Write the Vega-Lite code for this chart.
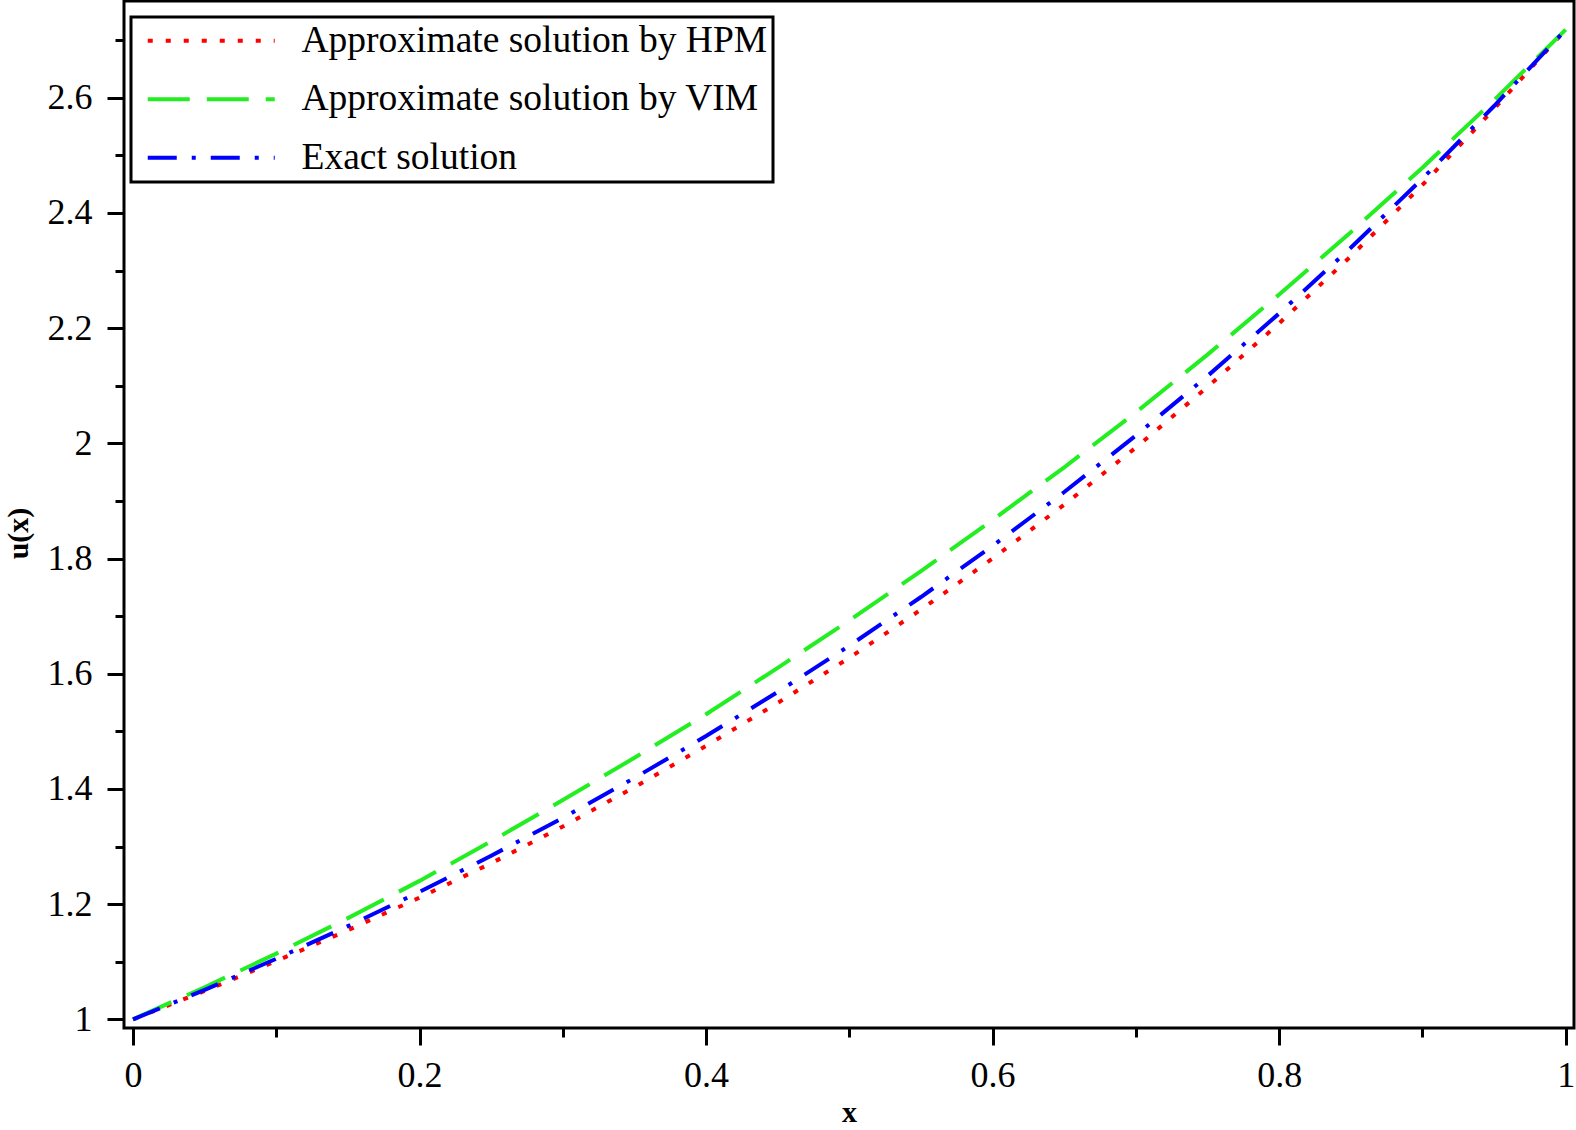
{
  "$schema": "https://vega.github.io/schema/vega-lite/v6.json",
  "width": 1450,
  "height": 1027,
  "autosize": {"type": "none"},
  "padding": {"left": 124, "top": 1, "right": 2, "bottom": 102},
  "background": "white",
  "config": {
    "view": {"stroke": "black", "strokeWidth": 3},
    "font": "Liberation Serif",
    "axis": {
      "grid": false,
      "domain": false,
      "tickColor": "black",
      "tickWidth": 3,
      "labelColor": "black",
      "labelFont": "Liberation Serif",
      "labelFontSize": 36,
      "titleFont": "Liberation Serif",
      "titleFontSize": 30,
      "titleFontWeight": "bold",
      "titleColor": "black",
      "labelFlush": false,
      "labelOverlap": false
    },
    "legend": {
      "orient": "none",
      "legendX": 7,
      "legendY": 16,
      "strokeColor": "black",
      "fillColor": "white",
      "padding": 5,
      "labelFont": "Liberation Serif",
      "labelFontSize": 37.5,
      "labelColor": "black",
      "labelLimit": 1000,
      "symbolType": "M0,0H10",
      "symbolSize": 645,
      "symbolStrokeWidth": 4,
      "rowPadding": 19.5,
      "labelOffset": 135,
      "symbolOffset": -7
    }
  },
  "data": {
    "values": [
      {"x": 0, "series": "Approximate solution by HPM", "u": 1},
      {"x": 0.05, "series": "Approximate solution by HPM", "u": 1.0493},
      {"x": 0.1, "series": "Approximate solution by HPM", "u": 1.1012},
      {"x": 0.15, "series": "Approximate solution by HPM", "u": 1.1548},
      {"x": 0.2, "series": "Approximate solution by HPM", "u": 1.2114},
      {"x": 0.25, "series": "Approximate solution by HPM", "u": 1.271},
      {"x": 0.3, "series": "Approximate solution by HPM", "u": 1.3349},
      {"x": 0.35, "series": "Approximate solution by HPM", "u": 1.4031},
      {"x": 0.4, "series": "Approximate solution by HPM", "u": 1.4748},
      {"x": 0.45, "series": "Approximate solution by HPM", "u": 1.5493},
      {"x": 0.5, "series": "Approximate solution by HPM", "u": 1.6277},
      {"x": 0.55, "series": "Approximate solution by HPM", "u": 1.7113},
      {"x": 0.6, "series": "Approximate solution by HPM", "u": 1.8001},
      {"x": 0.65, "series": "Approximate solution by HPM", "u": 1.8935},
      {"x": 0.7, "series": "Approximate solution by HPM", "u": 1.9928},
      {"x": 0.75, "series": "Approximate solution by HPM", "u": 2.098},
      {"x": 0.8, "series": "Approximate solution by HPM", "u": 2.2085},
      {"x": 0.85, "series": "Approximate solution by HPM", "u": 2.3247},
      {"x": 0.9, "series": "Approximate solution by HPM", "u": 2.4486},
      {"x": 0.95, "series": "Approximate solution by HPM", "u": 2.5807},
      {"x": 1, "series": "Approximate solution by HPM", "u": 2.7183},
      {"x": 0, "series": "Approximate solution by VIM", "u": 1},
      {"x": 0.05, "series": "Approximate solution by VIM", "u": 1.0558},
      {"x": 0.1, "series": "Approximate solution by VIM", "u": 1.1142},
      {"x": 0.15, "series": "Approximate solution by VIM", "u": 1.1758},
      {"x": 0.2, "series": "Approximate solution by VIM", "u": 1.2404},
      {"x": 0.25, "series": "Approximate solution by VIM", "u": 1.309},
      {"x": 0.3, "series": "Approximate solution by VIM", "u": 1.3809},
      {"x": 0.35, "series": "Approximate solution by VIM", "u": 1.4541},
      {"x": 0.4, "series": "Approximate solution by VIM", "u": 1.5298},
      {"x": 0.45, "series": "Approximate solution by VIM", "u": 1.6103},
      {"x": 0.5, "series": "Approximate solution by VIM", "u": 1.6927},
      {"x": 0.55, "series": "Approximate solution by VIM", "u": 1.7783},
      {"x": 0.6, "series": "Approximate solution by VIM", "u": 1.8671},
      {"x": 0.65, "series": "Approximate solution by VIM", "u": 1.9585},
      {"x": 0.7, "series": "Approximate solution by VIM", "u": 2.0538},
      {"x": 0.75, "series": "Approximate solution by VIM", "u": 2.154},
      {"x": 0.8, "series": "Approximate solution by VIM", "u": 2.2585},
      {"x": 0.85, "series": "Approximate solution by VIM", "u": 2.3667},
      {"x": 0.9, "series": "Approximate solution by VIM", "u": 2.4786},
      {"x": 0.95, "series": "Approximate solution by VIM", "u": 2.5957},
      {"x": 1, "series": "Approximate solution by VIM", "u": 2.7183},
      {"x": 0, "series": "Exact solution", "u": 1},
      {"x": 0.05, "series": "Exact solution", "u": 1.05127},
      {"x": 0.1, "series": "Exact solution", "u": 1.10517},
      {"x": 0.15, "series": "Exact solution", "u": 1.16183},
      {"x": 0.2, "series": "Exact solution", "u": 1.2214},
      {"x": 0.25, "series": "Exact solution", "u": 1.28403},
      {"x": 0.3, "series": "Exact solution", "u": 1.34986},
      {"x": 0.35, "series": "Exact solution", "u": 1.41907},
      {"x": 0.4, "series": "Exact solution", "u": 1.49182},
      {"x": 0.45, "series": "Exact solution", "u": 1.56831},
      {"x": 0.5, "series": "Exact solution", "u": 1.64872},
      {"x": 0.55, "series": "Exact solution", "u": 1.73325},
      {"x": 0.6, "series": "Exact solution", "u": 1.82212},
      {"x": 0.65, "series": "Exact solution", "u": 1.91554},
      {"x": 0.7, "series": "Exact solution", "u": 2.01375},
      {"x": 0.75, "series": "Exact solution", "u": 2.117},
      {"x": 0.8, "series": "Exact solution", "u": 2.22554},
      {"x": 0.85, "series": "Exact solution", "u": 2.33965},
      {"x": 0.9, "series": "Exact solution", "u": 2.4596},
      {"x": 0.95, "series": "Exact solution", "u": 2.58571},
      {"x": 1, "series": "Exact solution", "u": 2.71828}
    ]
  },
  "mark": {"type": "line", "strokeWidth": 4},
  "encoding": {
    "x": {
      "field": "x",
      "type": "quantitative",
      "scale": {"domain": [-0.0063, 1.0058], "nice": false, "zero": false},
      "axis": {
        "title": "x",
        "values": [0, 0.1, 0.2, 0.3, 0.4, 0.5, 0.6, 0.7, 0.8, 0.9, 1],
        "tickSize": {"condition": {"test": "round(datum.value*10) % 2 == 0", "value": 17}, "value": 9},
        "labelExpr": "round(datum.value*10) % 2 == 0 ? format(datum.value, '.1~f') : ''",
        "labelPadding": 13,
        "titlePadding": 4
      }
    },
    "y": {
      "field": "u",
      "type": "quantitative",
      "scale": {"domain": [0.985, 2.768], "nice": false, "zero": false},
      "axis": {
        "title": "u(x)",
        "values": [1, 1.1, 1.2, 1.3, 1.4, 1.5, 1.6, 1.7, 1.8, 1.9, 2, 2.1, 2.2, 2.3, 2.4, 2.5, 2.6, 2.7],
        "tickSize": {"condition": {"test": "round(datum.value*10) % 2 == 0", "value": 17}, "value": 9},
        "labelExpr": "round(datum.value*10) % 2 == 0 ? format(datum.value, '.1~f') : ''",
        "labelPadding": 15,
        "titlePadding": 14,
        "titleY": 532
      }
    },
    "color": {
      "field": "series",
      "type": "nominal",
      "scale": {
        "domain": ["Approximate solution by HPM", "Approximate solution by VIM", "Exact solution"],
        "range": ["#ff0000", "#22ee22", "#0000ff"]
      },
      "legend": {
        "title": null,
        "encode": {
          "legend": {"update": {"strokeWidth": {"value": 3}}},
          "labels": {"update": {"text": {"signal": "(datum.label == 'Approximate solution by VIM' ? '\u00a0' : '') + datum.label + '\u00a0\u00a0\u00a0'"}}}
        }
      }
    },
    "strokeDash": {
      "field": "series",
      "type": "nominal",
      "scale": {
        "domain": ["Approximate solution by HPM", "Approximate solution by VIM", "Exact solution"],
        "range": [[5, 13], [42, 17], [29, 15, 4, 15]]
      },
      "legend": {"title": null}
    }
  }
}
